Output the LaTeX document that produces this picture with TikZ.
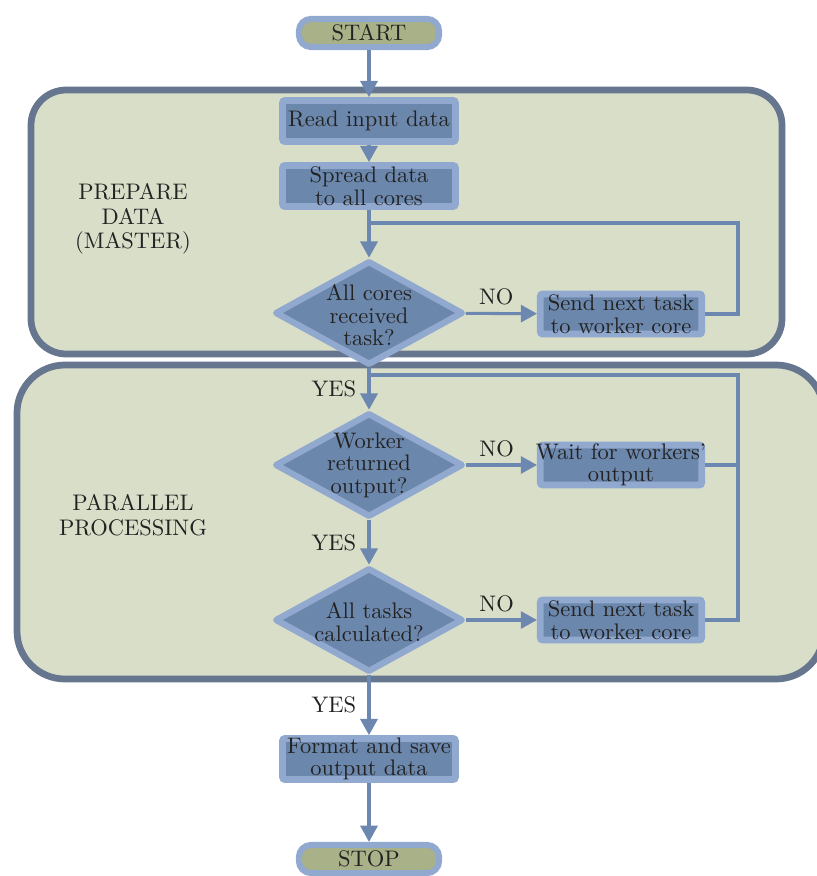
\documentclass[tikz,border=0pt]{standalone}
\usetikzlibrary{shapes.geometric,arrows.meta,calc}
\definecolor{regfill}{HTML}{D9DEC9}
\definecolor{regdraw}{HTML}{66768F}
\definecolor{boxfill}{HTML}{6C87AC}
\definecolor{boxdraw}{HTML}{91A8CF}
\definecolor{termfill}{HTML}{A8B187}
\definecolor{conn}{HTML}{6C88B0}
\definecolor{ink}{HTML}{222222}
\begin{document}
\begin{tikzpicture}[x=0.015625cm,y=-0.015625cm,
  region/.style={draw=regdraw, fill=regfill, line width=3pt},
  procbox/.style={rectangle, rounded corners=1pt, draw=boxdraw, fill=boxfill, line width=3pt, minimum width=2.70cm, minimum height=0.64cm, inner sep=0pt},
  sendbox/.style={procbox, minimum width=2.52cm, minimum height=0.625cm},
  term/.style={rectangle, rounded corners=0.19cm, draw=boxdraw, fill=termfill, line width=2.7pt, minimum width=2.19cm, minimum height=0.44cm, inner sep=0pt, text=ink},
  decision/.style={diamond, draw=boxdraw, fill=boxfill, line width=2.8pt, line join=round, minimum width=2.94cm, minimum height=1.63cm, inner sep=0pt},
  txt/.style={align=center, text=ink, inner sep=0pt, font=\fontsize{10}{10}\selectfont},
  reglabel/.style={align=center, text=ink, inner sep=0pt, font=\fontsize{10}{11}\selectfont},
  nolbl/.style={text=ink, inner sep=3pt, above, pos=0.43},
  yeslbl/.style={text=ink, inner sep=1pt, left=4pt},
  arrow/.style={draw=conn, line width=1.35pt, -{Triangle[length=7.2pt,width=7.6pt]}},
  link/.style={draw=conn, line width=1.35pt},
]
\useasboundingbox (0,0) rectangle (816,876);
% regions
\draw[region, rounded corners=0.55cm] (31,90) rectangle (782,354);
\draw[region, rounded corners=0.75cm] (17,365) rectangle (824,679);
\node[reglabel] (lprep) at (133,219) {PREPARE\\DATA\\(MASTER)};
\node[reglabel] (lpar) at (133,515) {PARALLEL\\PROCESSING};
% nodes
\node[term] (start) at (369,33) {START};
\node[procbox] (read) at (369,121) {};
\node[txt] at (read) {Read input data};
\node[procbox] (spread) at (369,186) {};
\node[txt] at (spread) {Spread data\\to all cores};
\node[decision] (d1) at (369,313) {};
\node[txt, yshift=-1pt] at (d1) {All cores\\received\\task?};
\node[sendbox] (s1) at (621,314) {};
\node[txt] at (s1) {Send next task\\to worker core};
\node[decision] (d2) at (369,465) {};
\node[txt] at (d2) {Worker\\returned\\output?};
\node[sendbox] (wait) at (621,465) {};
\node[txt] at (wait) {Wait for workers'\\output};
\node[decision] (d3) at (369,620) {};
\node[txt, yshift=-1pt] at (d3) {All tasks\\calculated?};
\node[sendbox] (s2) at (621,620) {};
\node[txt] at (s2) {Send next task\\to worker core};
\node[procbox] (fmt) at (369,759) {};
\node[txt] at (fmt) {Format and save\\output data};
\node[term] (stop) at (369,859) {STOP};
% coordinates for loops
\coordinate (j1) at (369,223);
\coordinate (c1) at (738,223);
\coordinate (j2) at (369,375);
\coordinate (c2) at (738,375);
% connectors
\draw[arrow] (start) -- (read);
\draw[arrow] (read) -- (spread);
\draw[arrow] (spread) -- (d1);
\draw[arrow] (d1) -- node[nolbl] {NO} (s1);
\draw[link] (s1.east) -| (c1) -- (j1);
\draw[arrow] (d1) -- node[yeslbl] {YES} (d2);
\draw[arrow] (d2) -- node[nolbl] {NO} (wait);
\draw[link] (wait.east) -- (wait.east -| c2);
\draw[link] (s2.east) -| (c2) -- (j2);
\draw[arrow] (d2) -- node[yeslbl] {YES} (d3);
\draw[arrow] (d3) -- node[nolbl] {NO} (s2);
\draw[arrow] (d3) -- node[yeslbl] {YES} (fmt);
\draw[arrow] (fmt) -- (stop);
\end{tikzpicture}
\end{document}
